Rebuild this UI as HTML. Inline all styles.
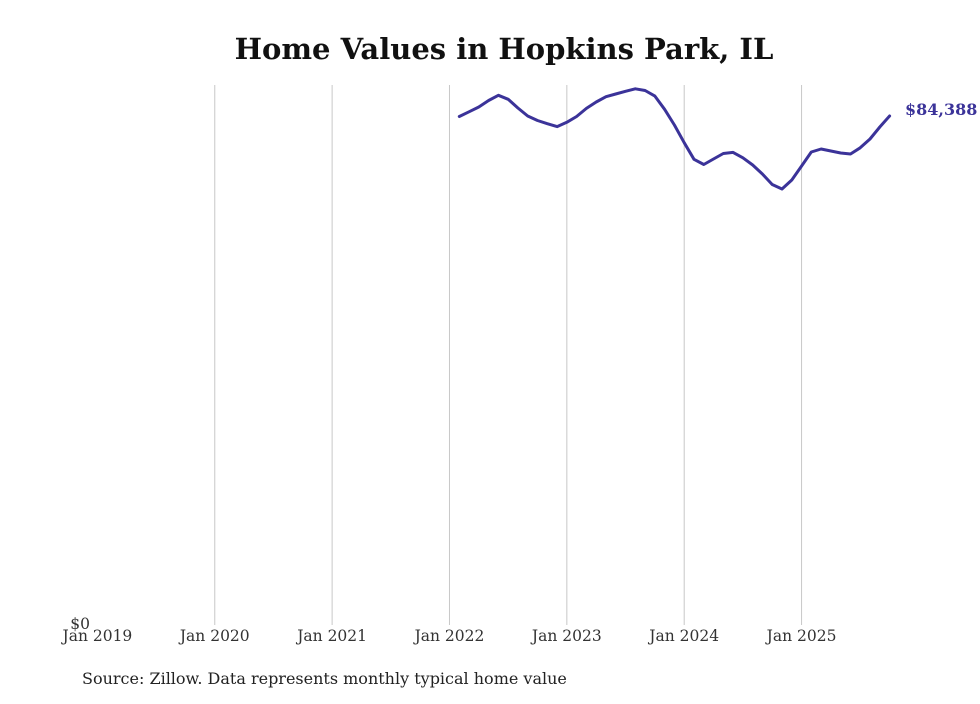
<!DOCTYPE html>
<html><head><meta charset="utf-8"><style>
html,body{margin:0;padding:0;background:#fff;}
svg text{font-family:"DejaVu Serif","Liberation Serif",serif;}
</style></head><body>
<svg width="980" height="699" viewBox="0 0 980 699" xmlns="http://www.w3.org/2000/svg">
<text x="504" y="59" text-anchor="middle" font-size="29" font-weight="bold" fill="#111">Home Values in Hopkins Park, IL</text>
<g id="grid"></g>
<g id="xticks"></g>
<text x="90" y="629" text-anchor="end" font-size="15.5" fill="#333">$0</text>
<path id="line" fill="none" stroke="#3b3399" stroke-width="3" stroke-linejoin="round" stroke-linecap="round"/>
<text id="endlabel" font-size="16" font-weight="bold" fill="#3b3399"></text>
<text x="82" y="684" font-size="16" fill="#222">Source: Zillow. Data represents monthly typical home value</text>
</svg>
<script>
const tickYears = ["Jan 2019","Jan 2020","Jan 2021","Jan 2022","Jan 2023","Jan 2024","Jan 2025"];
const startMonth = 37; // months after Jan 2019 (Feb 2022)
const values = [84300,85090,85880,86960,87820,87160,85720,84390,83650,83110,82630,83350,84310,85650,86710,87580,88040,88490,88900,88620,87680,85500,82900,79960,77210,76350,77260,78170,78360,77460,76270,74780,73030,72290,73780,76100,78420,78920,78590,78260,78090,79120,80580,82570,84388];
const ns="http://www.w3.org/2000/svg";
const x0=97.4, mw=9.78, yBase=625, yScale=509/84388;
const xs=m=>x0+m*mw;
const ys=v=>yBase-v*yScale;
const grid=document.getElementById('grid'), xt=document.getElementById('xticks');
tickYears.forEach((t,i)=>{
  const x=xs(i*12);
  if(i>0){
    const l=document.createElementNS(ns,'line');
    l.setAttribute('x1',x);l.setAttribute('x2',x);l.setAttribute('y1',85);l.setAttribute('y2',625);
    l.setAttribute('stroke','#c8c8c8');l.setAttribute('stroke-width','1');
    
    
    grid.appendChild(l);
  }
  const tx=document.createElementNS(ns,'text');
  tx.setAttribute('x',x);tx.setAttribute('y',641);tx.setAttribute('text-anchor','middle');
  tx.setAttribute('font-size','15.5');tx.setAttribute('fill','#333');
  tx.textContent=t;
  
  
  xt.appendChild(tx);
});
let d='';
values.forEach((v,i)=>{d+=(i?'L':'M')+xs(startMonth+i).toFixed(1)+','+ys(v).toFixed(1);});
document.getElementById('line').setAttribute('d',d);
const last=values[values.length-1];
const el=document.getElementById('endlabel');
el.setAttribute('x',905);el.setAttribute('y',ys(last)-1);
el.textContent='$'+last.toLocaleString('en-US');
</script>
</body></html>
